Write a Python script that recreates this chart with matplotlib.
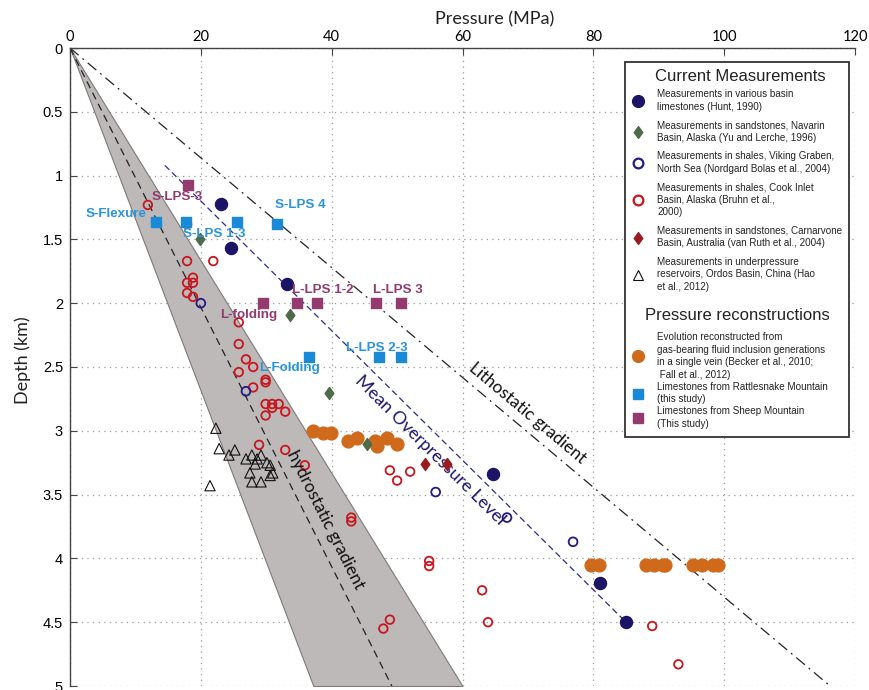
import matplotlib
matplotlib.use("Agg")
import matplotlib.pyplot as plt
from matplotlib.lines import Line2D
from matplotlib.patches import Rectangle
from matplotlib.path import Path

# ---------------- data ----------------
hunt_p = [23.1, 24.6, 33.2, 64.7, 81.0, 85.0]
hunt_d = [1.22, 1.57, 1.85, 3.34, 4.19, 4.50]

navarin_p = [19.9, 33.6, 39.6, 45.4]
navarin_d = [1.50, 2.09, 2.70, 3.10]

viking_p = [20.0, 26.9, 55.9, 66.8, 76.9]
viking_d = [2.00, 2.69, 3.48, 3.68, 3.87]

cook_p = [11.9, 17.9, 17.9, 21.9, 18.8, 17.9, 18.8, 17.9, 18.8, 25.8, 25.8,
          26.9, 28.0, 25.8, 29.9, 29.9, 28.0, 29.9, 30.9, 31.9, 30.9, 32.9,
          29.9, 28.9, 32.9, 35.9, 48.9, 50.0, 52.0, 43.0, 43.0, 54.9, 54.9,
          63.0, 63.9, 48.9, 47.9, 89.0, 93.0]
cook_d = [1.23, 1.38, 1.67, 1.67, 1.80, 1.84, 1.84, 1.92, 1.95, 2.15, 2.32,
          2.44, 2.50, 2.54, 2.60, 2.62, 2.66, 2.79, 2.79, 2.79, 2.82, 2.85,
          2.88, 3.11, 3.15, 3.27, 3.31, 3.39, 3.32, 3.68, 3.71, 4.02, 4.06,
          4.25, 4.50, 4.48, 4.55, 4.53, 4.83]

carnarvon_p = [54.3, 57.6]
carnarvon_d = [3.26, 3.26]

hao_p = [22.3, 22.8, 24.3, 25.2, 26.9, 27.8, 28.6, 29.2, 28.3, 30.1, 30.6,
         27.5, 31.0, 27.8, 29.2, 30.6, 21.4]
hao_d = [2.98, 3.14, 3.19, 3.15, 3.22, 3.19, 3.22, 3.19, 3.26, 3.25, 3.27,
         3.33, 3.33, 3.40, 3.40, 3.35, 3.43]

becker_p = [37.1, 38.6, 39.9, 42.5, 43.9, 46.6, 47.0, 48.5, 50.0,
            79.6, 80.9, 88.0, 89.2, 90.7, 91.0, 95.3, 96.6, 98.3, 99.1]
becker_d = [3.00, 3.02, 3.02, 3.08, 3.06, 3.08, 3.12, 3.06, 3.10,
            4.05, 4.05, 4.05, 4.05, 4.05, 4.05, 4.05, 4.05, 4.05, 4.05]

rattle_p = [13.1, 17.7, 25.5, 31.7, 36.5, 47.2, 50.6]
rattle_d = [1.36, 1.36, 1.36, 1.38, 2.42, 2.42, 2.42]

sheep_p = [18.0, 29.5, 34.7, 37.7, 46.8, 50.6]
sheep_d = [1.07, 2.00, 2.00, 2.00, 2.00, 2.00]

# gradients (depth km -> pressure MPa)
grad_d = [0, 5]
band_low = [0, 37.2]
band_high = [0, 60.0]
hydro_p = [0, 49.2]
litho_p = [0, 116.2]
ovp_d = [0.92, 4.50]
ovp_p = [14.5, 85.0]

# sample labels
rattle_labels = ["S-Flexure", "S-LPS 1-3", "S-LPS 4", "L-LPS 2-3", "L-Folding"]
rattle_lab_p = [2.4, 17.3, 31.3, 42.2, 28.9]
rattle_lab_d = [1.30, 1.46, 1.23, 2.35, 2.51]
sheep_labels = ["S-LPS-3", "L-LPS 1-2", "L-LPS 3", "L-folding"]
sheep_lab_p = [12.5, 33.9, 46.3, 23.0]
sheep_lab_d = [1.17, 1.90, 1.90, 2.09]

x_ticks = [0, 20, 40, 60, 80, 100, 120]
y_ticks = [0, 0.5, 1, 1.5, 2, 2.5, 3, 3.5, 4, 4.5, 5]
y_tick_labels = ["0", "0.5", "1", "1.5", "2", "2.5", "3", "3.5", "4", "4.5", "5"]

# ---------------- colours ----------------
C_NAVY = "#1c1566"
C_GREEN = "#4d6b49"
C_VIK = "#231a86"
C_RED = "#c8161e"
C_DRED = "#9b1a20"
C_ORANGE = "#cf6a1d"
C_BLUE = "#1b8ad6"
C_PURPLE = "#933a6e"
C_BLUE_TXT = "#2a93dd"

diamond = Path([(0, 1), (0.72, 0), (0, -1), (-0.72, 0), (0, 1)],
               [Path.MOVETO, Path.LINETO, Path.LINETO, Path.LINETO, Path.CLOSEPOLY])

plt.rcParams['font.family'] = ['Liberation Sans', 'DejaVu Sans']

fig = plt.figure(figsize=(8.69, 6.90), dpi=100)
ax = fig.add_axes([70 / 869, 1 - 686 / 690, 785 / 869, 638 / 690])
ax.set_xlim(0, 120)
ax.set_ylim(5, 0)

# grid
ax.set_xticks(x_ticks)
ax.set_yticks(y_ticks)
ax.set_yticklabels(y_tick_labels)
ax.grid(True, color="#9a9a9a", linestyle=(0, (1, 3.5)), linewidth=0.9, zorder=0)
ax.set_axisbelow(True)

# hydrostatic band and gradient lines
ax.fill_betweenx(grad_d, band_low, band_high, facecolor="#bdb9b9",
                 edgecolor="#7d7979", linewidth=0.8, zorder=1)
ax.plot(hydro_p, grad_d, color="#222222", lw=0.9, dashes=(6, 4), zorder=2)
ax.plot(litho_p, grad_d, color="#222222", lw=0.9, dashes=(9, 4, 1.5, 4), zorder=2)
ax.plot(ovp_p, ovp_d, color="#2d2a8c", lw=0.9, dashes=(5, 3), zorder=2)

# data
ax.scatter(cook_p, cook_d, s=38, marker="o", facecolors="none", edgecolors=C_RED,
           linewidths=1.3, zorder=3)
ax.scatter(hao_p, hao_d, s=55, marker="^", facecolors="none", edgecolors="#111111",
           linewidths=0.8, zorder=3)
ax.scatter(viking_p, viking_d, s=40, marker="o", facecolors="none", edgecolors=C_VIK,
           linewidths=1.3, zorder=3)
ax.scatter(becker_p, becker_d, s=85, marker="o", color=C_ORANGE, zorder=3)
ax.scatter(hunt_p, hunt_d, s=75, marker="o", color=C_NAVY, zorder=4)
ax.scatter(navarin_p, navarin_d, s=75, marker=diamond, color=C_GREEN, zorder=4)
ax.scatter(carnarvon_p, carnarvon_d, s=75, marker=diamond, color=C_DRED, zorder=4)
ax.scatter(rattle_p, rattle_d, s=45, marker="s", color=C_BLUE, zorder=4)
ax.scatter(sheep_p, sheep_d, s=45, marker="s", color=C_PURPLE, zorder=4)

# sample labels
for t, p, d in zip(rattle_labels, rattle_lab_p, rattle_lab_d):
    ax.text(p, d, t, color=C_BLUE_TXT, fontsize=9.6, fontweight="bold",
            ha="left", va="center", zorder=5)
for t, p, d in zip(sheep_labels, sheep_lab_p, sheep_lab_d):
    ax.text(p, d, t, color=C_PURPLE, fontsize=9.6, fontweight="bold",
            ha="left", va="center", zorder=5)

# gradient labels
lab_font = ['Lato', 'DejaVu Sans']
ax.text(70.0, 2.86, "Lithostatic gradient", rotation=-40, rotation_mode="anchor",
        ha="center", va="center", fontsize=12.5, family=lab_font, color="#111111")
ax.text(55.0, 3.15, "Mean Overpressure Level", rotation=-44.8, rotation_mode="anchor",
        ha="center", va="center", fontsize=13, family=lab_font, color="#1e1670")
ax.text(39.0, 3.70, "hydrostatic gradient", rotation=-63.3, rotation_mode="anchor",
        ha="center", va="center", fontsize=12.5, family=lab_font, color="#111111")

# axes styling
ax.xaxis.tick_top()
ax.xaxis.set_label_position("top")
for s in ["right", "bottom"]:
    ax.spines[s].set_visible(False)
for s in ["top", "left"]:
    ax.spines[s].set_color("#444444")
    ax.spines[s].set_linewidth(1.0)
ax.tick_params(axis="x", direction="in", length=5, width=0.8, color="#444444",
               labelsize=10.5, pad=3)
ax.tick_params(axis="y", direction="in", length=5, width=0.8, color="#444444",
               labelsize=10.5, pad=5)
for lab in ax.get_xticklabels():
    lab.set_family(lab_font)
ax.set_xlabel("Pressure (MPa)", fontsize=13, family=lab_font, color="#222222")
ax.xaxis.set_label_coords(0.541, 1.037)
ax.set_ylabel("Depth (km)", fontsize=13, family=lab_font, color="#222222")
ax.yaxis.set_label_coords(-0.050, 0.511)

# legend box
box = Rectangle((0.707, 0.390), 0.2854, 0.588, transform=ax.transAxes,
                facecolor="white", edgecolor="#333333", linewidth=1.3, zorder=9)
ax.add_patch(box)
ax.text(0.8535, 0.956, "Current Measurements", transform=ax.transAxes,
        ha="center", va="center", fontsize=12, color="#222222", zorder=11)
ax.text(0.850, 0.5815, "Pressure reconstructions", transform=ax.transAxes,
        ha="center", va="center", fontsize=12, color="#222222", zorder=11)

h1 = [
    Line2D([], [], ls="none", marker="o", ms=8.5, color=C_NAVY),
    Line2D([], [], ls="none", marker=diamond, ms=8.5, color=C_GREEN),
    Line2D([], [], ls="none", marker="o", ms=7, mfc="none", mec=C_VIK, mew=1.6),
    Line2D([], [], ls="none", marker="o", ms=7, mfc="none", mec=C_RED, mew=1.6),
    Line2D([], [], ls="none", marker=diamond, ms=8.5, color=C_DRED),
    Line2D([], [], ls="none", marker="^", ms=7, mfc="none", mec="#111111", mew=0.8),
]
l1 = [
    "Measurements in various basin\nlimestones (Hunt, 1990)",
    "Measurements in sandstones, Navarin\nBasin, Alaska (Yu and Lerche, 1996)",
    "Measurements in shales, Viking Graben,\nNorth Sea (Nordgard Bolas et al., 2004)",
    "Measurements in shales, Cook Inlet\nBasin, Alaska (Bruhn et al.,\n2000)",
    "Measurements in sandstones, Carnarvone\nBasin, Australia (van Ruth et al., 2004)",
    "Measurements in underpressure\nreservoirs, Ordos Basin, China (Hao\net al., 2012)",
]
h2 = [
    Line2D([], [], ls="none", marker="o", ms=8.5, color=C_ORANGE),
    Line2D([], [], ls="none", marker="s", ms=7, color=C_BLUE),
    Line2D([], [], ls="none", marker="s", ms=7, color=C_PURPLE),
]
l2 = [
    "Evolution reconstructed from\ngas-bearing fluid inclusion generations\nin a single vein (Becker et al., 2010;\n Fall et al., 2012)",
    "Limestones from Rattlesnake Mountain\n(this study)",
    "Limestones from Sheep Mountain\n(This study)",
]
common = dict(loc="upper left", frameon=False, fontsize=7.1,
              handlelength=1.2, handletextpad=1.35, borderpad=0, borderaxespad=0,
              labelcolor="#222222")
leg1 = ax.legend(h1, l1, bbox_to_anchor=(0.716, 0.9357), labelspacing=0.85, **common)
for t in leg1.get_texts():
    t.set_linespacing(1.33)
leg1.set_zorder(10)
ax.add_artist(leg1)
leg2 = ax.legend(h2, l2, bbox_to_anchor=(0.716, 0.555), labelspacing=0.2, **common)
for t in leg2.get_texts():
    t.set_linespacing(1.33)
leg2.set_zorder(10)

fig.savefig("out.png", dpi=100)
